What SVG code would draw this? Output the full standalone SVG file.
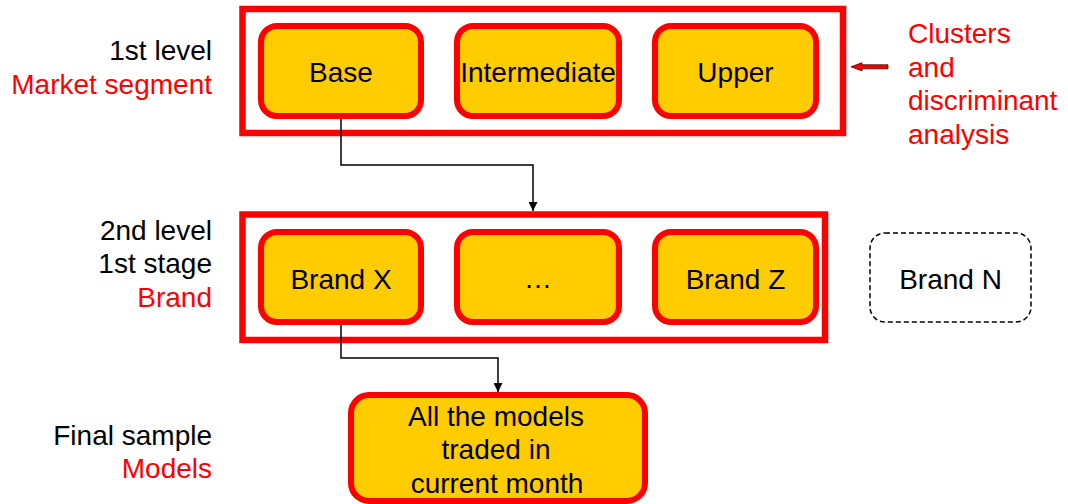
<svg xmlns="http://www.w3.org/2000/svg" width="1068" height="504" viewBox="0 0 1068 504">
<style>
text{font-family:"Liberation Sans",Arial,sans-serif;font-size:28px}
.blk{fill:#000}
.red{fill:#ff0000}
.mid{text-anchor:middle}
.end{text-anchor:end}
.outer{fill:#fff;stroke:#ff0000;stroke-width:6.5}
.node{fill:#ffcc00;stroke:#ff0000;stroke-width:6}
.dash{fill:#fff;stroke:#000;stroke-width:1.5;stroke-dasharray:5 3}
.conn{fill:none;stroke:#000;stroke-width:1.5}
</style>
<defs>
<marker id="ah" viewBox="0 0 10 10" refX="10" refY="5" markerWidth="6" markerHeight="6" orient="auto" markerUnits="strokeWidth">
<path d="M0,0 L10,5 L0,10 z" fill="#000"/>
</marker>
</defs>
<g id="labels">
<text class="blk end" x="212" y="60">1st level</text>
<text class="red end" x="212" y="94">Market segment</text>
<text class="blk end" x="212" y="240">2nd level</text>
<text class="blk end" x="212" y="273">1st stage</text>
<text class="red end" x="212" y="307">Brand</text>
<text class="blk end" x="212" y="445">Final sample</text>
<text class="red end" x="212" y="478">Models</text>
<text class="red" x="908" y="43">Clusters</text>
<text class="red" x="908" y="77">and</text>
<text class="red" x="908" y="110">discriminant</text>
<text class="red" x="908" y="144">analysis</text>
</g>
<g id="level1">
<rect class="outer" x="242.5" y="9" width="600.5" height="124"/>
</g>
<g id="level2">
<rect class="outer" x="242.5" y="214.5" width="582.5" height="125.5"/>
</g>
<g id="base"><rect class="node" x="261" y="26" width="160" height="90" rx="16"/><text class="blk mid" x="341" y="82">Base</text></g>
<g id="intermediate"><rect class="node" x="457" y="26" width="162" height="90" rx="16"/><text class="blk mid" x="538" y="82">Intermediate</text></g>
<g id="upper"><rect class="node" x="655" y="26" width="161" height="90" rx="16"/><text class="blk mid" x="735.5" y="82">Upper</text></g>
<g id="brandx"><rect class="node" x="261" y="232" width="160" height="90" rx="16"/><text class="blk mid" x="341" y="289">Brand X</text></g>
<g id="dots"><rect class="node" x="457" y="232" width="162" height="90" rx="16"/><text class="blk mid" x="538" y="288">…</text></g>
<g id="brandz"><rect class="node" x="655" y="232" width="161" height="90" rx="16"/><text class="blk mid" x="735.5" y="289">Brand Z</text></g>
<g id="brandn"><rect class="dash" x="870" y="233" width="161" height="89" rx="15"/><text class="blk mid" x="950.5" y="289">Brand N</text></g>
<g id="models"><rect class="node" x="351" y="395" width="294" height="106" rx="18"/>
<text class="blk mid" x="496" y="426">All the models</text>
<text class="blk mid" x="496" y="459">traded in</text>
<text class="blk mid" x="497" y="493">current month</text></g>
<g id="connectors">
<polyline class="conn" points="341,119 341,165 533,165 533,211" marker-end="url(#ah)"/>
<polyline class="conn" points="341,325 341,358 498,358 498,392" marker-end="url(#ah)"/>
<path d="M888,64.8 L862,64.8 L862,62.7 L851,66.8 L862,70.9 L862,68.8 L888,68.8 z" fill="#ff0000" stroke="#400" stroke-width="0.8"/>
</g>
</svg>
